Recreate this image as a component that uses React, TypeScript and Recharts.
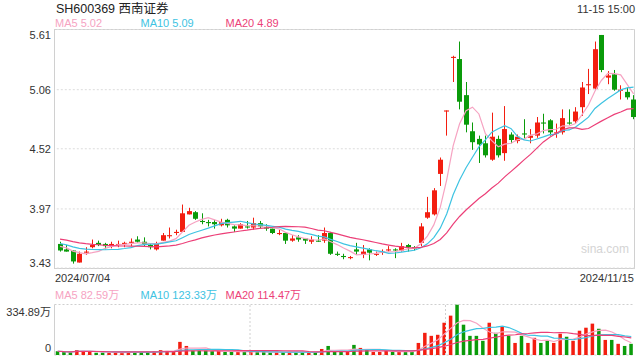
import React from "react";
import { ComposedChart, Bar, Line, XAxis, YAxis, CartesianGrid, ReferenceLine } from "recharts";

const dates = [
  "2024/07/04", "2024/07/05", "2024/07/08", "2024/07/09", "2024/07/10", "2024/07/11", "2024/07/12",
  "2024/07/15", "2024/07/16", "2024/07/17", "2024/07/18", "2024/07/19", "2024/07/22", "2024/07/23",
  "2024/07/24", "2024/07/25", "2024/07/26", "2024/07/29", "2024/07/30", "2024/07/31", "2024/08/01",
  "2024/08/02", "2024/08/05", "2024/08/06", "2024/08/07", "2024/08/08", "2024/08/09", "2024/08/12",
  "2024/08/13", "2024/08/14", "2024/08/15", "2024/08/16", "2024/08/19", "2024/08/20", "2024/08/21",
  "2024/08/22", "2024/08/23", "2024/08/26", "2024/08/27", "2024/08/28", "2024/08/29", "2024/08/30",
  "2024/09/02", "2024/09/03", "2024/09/04", "2024/09/05", "2024/09/06", "2024/09/09", "2024/09/10",
  "2024/09/11", "2024/09/12", "2024/09/13", "2024/09/18", "2024/09/19", "2024/09/20", "2024/09/23",
  "2024/09/24", "2024/09/25", "2024/09/26", "2024/09/27", "2024/09/30", "2024/10/08", "2024/10/09",
  "2024/10/10", "2024/10/11", "2024/10/14", "2024/10/15", "2024/10/16", "2024/10/17", "2024/10/18",
  "2024/10/21", "2024/10/22", "2024/10/23", "2024/10/24", "2024/10/25", "2024/10/28", "2024/10/29",
  "2024/10/30", "2024/10/31", "2024/11/01", "2024/11/04", "2024/11/05", "2024/11/06", "2024/11/07",
  "2024/11/08", "2024/11/11", "2024/11/12", "2024/11/13", "2024/11/14", "2024/11/15",
];

const open = [
  3.65, 3.60, 3.59, 3.48, 3.57, 3.62, 3.66, 3.65, 3.63, 3.64, 3.65, 3.66, 3.69, 3.67, 3.64,
  3.60, 3.68, 3.72, 3.75, 3.76, 3.92, 3.94, 3.86, 3.85, 3.85, 3.82, 3.87, 3.81, 3.79, 3.81,
  3.80, 3.84, 3.80, 3.79, 3.74, 3.75, 3.68, 3.71, 3.70, 3.67, 3.68, 3.68, 3.75, 3.56, 3.54,
  3.52, 3.60, 3.55, 3.60, 3.55, 3.57, 3.59, 3.60, 3.59, 3.64, 3.62, 3.66, 3.89, 3.92, 4.29,
  4.86, 5.35, 5.34, 5.01, 4.68, 4.61, 4.57, 4.42, 4.61, 4.48, 4.65, 4.59, 4.66, 4.62, 4.64,
  4.76, 4.78, 4.66, 4.67, 4.76, 4.77, 4.90, 5.10, 5.07, 5.56, 5.17, 5.20, 5.05, 5.04, 4.97,
];
const high = [
  3.67, 3.64, 3.59, 3.58, 3.62, 3.69, 3.68, 3.66, 3.67, 3.68, 3.67, 3.70, 3.72, 3.71, 3.65,
  3.67, 3.75, 3.80, 3.78, 4.01, 3.98, 3.95, 3.93, 3.87, 3.87, 3.88, 3.88, 3.82, 3.84, 3.86,
  3.89, 3.86, 3.83, 3.79, 3.78, 3.75, 3.73, 3.73, 3.70, 3.72, 3.73, 3.80, 3.76, 3.58, 3.56,
  3.54, 3.66, 3.64, 3.61, 3.58, 3.60, 3.63, 3.61, 3.66, 3.65, 3.63, 3.84, 4.08, 4.16, 4.44,
  4.87, 5.37, 5.50, 5.13, 4.76, 4.64, 4.64, 4.85, 4.64, 4.91, 4.67, 4.65, 4.79, 4.70, 4.81,
  4.84, 4.79, 4.75, 4.88, 4.88, 4.90, 5.13, 5.25, 5.50, 5.56, 5.23, 5.24, 5.10, 5.08, 5.01,
];
const low = [
  3.58, 3.58, 3.47, 3.48, 3.55, 3.61, 3.63, 3.60, 3.61, 3.62, 3.62, 3.63, 3.66, 3.63, 3.60,
  3.59, 3.68, 3.70, 3.73, 3.76, 3.92, 3.87, 3.83, 3.81, 3.79, 3.81, 3.80, 3.76, 3.79, 3.79,
  3.78, 3.79, 3.77, 3.74, 3.73, 3.65, 3.67, 3.67, 3.65, 3.65, 3.67, 3.66, 3.55, 3.54, 3.51,
  3.51, 3.55, 3.52, 3.50, 3.54, 3.55, 3.58, 3.52, 3.58, 3.58, 3.59, 3.63, 3.88, 3.91, 4.18,
  4.64, 5.13, 4.88, 4.67, 4.51, 4.39, 4.44, 4.41, 4.44, 4.41, 4.57, 4.57, 4.61, 4.57, 4.62,
  4.66, 4.64, 4.62, 4.65, 4.74, 4.75, 4.82, 5.02, 5.06, 5.22, 5.11, 5.05, 4.97, 4.97, 4.79,
];
const close = [
  3.59, 3.58, 3.49, 3.56, 3.58, 3.64, 3.64, 3.63, 3.65, 3.65, 3.66, 3.67, 3.67, 3.65, 3.62,
  3.65, 3.73, 3.73, 3.76, 3.93, 3.95, 3.88, 3.85, 3.84, 3.83, 3.85, 3.82, 3.79, 3.83, 3.80,
  3.84, 3.81, 3.79, 3.75, 3.75, 3.68, 3.70, 3.69, 3.68, 3.69, 3.67, 3.75, 3.56, 3.55, 3.53,
  3.53, 3.58, 3.58, 3.57, 3.56, 3.58, 3.60, 3.59, 3.63, 3.62, 3.61, 3.81, 3.94, 4.14, 4.42,
  4.87, 5.36, 4.95, 4.74, 4.58, 4.56, 4.46, 4.63, 4.46, 4.70, 4.60, 4.63, 4.65, 4.64, 4.76,
  4.75, 4.67, 4.67, 4.80, 4.75, 4.86, 5.08, 5.11, 5.43, 5.24, 5.19, 5.06, 5.06, 4.99, 4.81,
];

// volume in 万 (10k) shares
const volume = [
  25, 20, 18, 33, 27, 25, 15, 15, 15, 18, 18, 18, 20, 20, 22, 25, 33, 27, 25, 87,
  60, 29, 29, 29, 25, 27, 20, 20, 20, 22, 20, 20, 20, 16, 18, 20, 16, 20, 18, 16,
  20, 40, 60, 22, 22, 22, 67, 47, 33, 20, 20, 29, 20, 22, 20, 20, 80, 147, 127, 134,
  214, 261, 334.89, 201, 127, 127, 94, 214, 147, 188, 127, 80, 127, 80, 114, 80, 94, 80, 141, 121,
  94, 161, 181, 208, 174, 100, 100, 74, 60, 74,
];

// closes before 07/04, backed out from where the MA lines start at the left edge
const earlierCloses = [
  3.78, 3.76, 3.77, 3.74, 3.75, 3.72, 3.73, 3.70, 3.71, 3.68,
  3.70, 3.68, 3.69, 3.66, 3.67, 3.65, 3.64, 3.63, 3.63,
];

const priceTicks = [3.43, 3.97, 4.52, 5.06, 5.61];
const volTicks = [0, 334.89];
const volTickLabels = ["0", "334.89万"];

const title = "SH600369 西南证券";
const timeLabel = "11-15 15:00";
const priceLegend = ["MA5 5.02", "MA10 5.09", "MA20 4.89"];
const volLegend = ["MA5 82.59万", "MA10 123.33万", "MA20 114.47万"];

const RED = "#f31e10";
const GREEN = "#0a9b0a";
const MA5C = "#f6a3c2";
const MA10C = "#3ec3e2";
const MA20C = "#ec3f78";
const FONT = "Arial, 'Liberation Sans', 'Noto Sans CJK SC', sans-serif";

function movingAvg(values: number[], n: number, prior: number[] = []) {
  const all = [...prior, ...values];
  return values.map((_, i) => {
    const end = prior.length + i + 1;
    const win = all.slice(Math.max(0, end - n), end);
    return win.reduce((a, b) => a + b, 0) / win.length;
  });
}

const ma5 = movingAvg(close, 5, earlierCloses);
const ma10 = movingAvg(close, 10, earlierCloses);
const ma20 = movingAvg(close, 20, earlierCloses);
const vma5 = movingAvg(volume, 5);
const vma10 = movingAvg(volume, 10);
const vma20 = movingAvg(volume, 20);

const rows = dates.map((date, i) => ({
  date,
  open: open[i],
  high: high[i],
  low: low[i],
  close: close[i],
  range: [low[i], high[i]],
  volume: volume[i],
  ma5: ma5[i],
  ma10: ma10[i],
  ma20: ma20[i],
  vma5: vma5[i],
  vma10: vma10[i],
  vma20: vma20[i],
}));

function Candle(props: any) {
  const { x, y, width, height, payload } = props;
  const { open, close, high, low } = payload;
  const color = close >= open ? RED : GREEN;
  const top = Math.min(y, y + height);
  const bottom = Math.max(y, y + height);
  const yOf = (v: number) => top + ((high - v) / (high - low)) * (bottom - top);
  const cx = Math.round(x + width / 2) + 0.5;
  const bTop = yOf(Math.max(open, close));
  const bBot = yOf(Math.min(open, close));
  return (
    <g>
      <line x1={cx} x2={cx} y1={top} y2={bottom} stroke={color} strokeWidth={1} />
      <rect x={cx - 2.5} y={bTop} width={5} height={Math.max(1, bBot - bTop)} fill={color} />
    </g>
  );
}

function VolBar(props: any) {
  const { x, y, width, height, payload } = props;
  const color = payload.close >= payload.open ? RED : GREEN;
  const cx = x + width / 2;
  return <rect x={cx - 1.75} y={y} width={3.5} height={Math.max(0, height)} fill={color} />;
}

function PriceTick(props: any) {
  const { y, payload } = props;
  const v = payload.value;
  let dy = 4;
  if (v === priceTicks[priceTicks.length - 1]) dy = 9;
  if (v === priceTicks[0]) dy = -1;
  return (
    <text x={51} y={y + dy} textAnchor="end" fontSize={11} fill="#333" fontFamily={FONT}>
      {v.toFixed(2)}
    </text>
  );
}

function DateTick(props: any) {
  const { payload } = props;
  const first = payload.value === dates[0];
  return (
    <text x={first ? 55 : 634} y={282} textAnchor={first ? "start" : "end"} fontSize={11} fill="#333" fontFamily={FONT}>
      {payload.value}
    </text>
  );
}

function VolTick(props: any) {
  const { y, payload } = props;
  const idx = volTicks.indexOf(payload.value);
  const isTop = idx === volTicks.length - 1;
  return (
    <text x={51} y={y + (isTop ? 11 : -3)} textAnchor="end" fontSize={11} fill="#333" fontFamily={FONT}>
      {volTickLabels[idx]}
    </text>
  );
}

export default function App() {
  return (
    <div style={{ position: "absolute", left: 0, top: 0, width: 640, height: 360, background: "#fff", fontFamily: FONT }}>
      <svg width={640} height={360} style={{ position: "absolute", left: 0, top: 0 }}>
        <rect x={54.5} y={29.5} width={580} height={239} fill="none" stroke="#d0d0d0" />
        <text x={56} y={13} fontSize={12.5} fill="#222">{title}</text>
        <text x={635} y={13} fontSize={11} fill="#333" textAnchor="end">{timeLabel}</text>
        <text x={55} y={27} fontSize={11} fill={MA5C}>{priceLegend[0]}</text>
        <text x={140.5} y={27} fontSize={11} fill={MA10C}>{priceLegend[1]}</text>
        <text x={225.5} y={27} fontSize={11} fill={MA20C}>{priceLegend[2]}</text>
        <text x={55} y={299} fontSize={11} fill={MA5C}>{volLegend[0]}</text>
        <text x={140.5} y={299} fontSize={11} fill={MA10C}>{volLegend[1]}</text>
        <text x={225.5} y={299} fontSize={11} fill={MA20C}>{volLegend[2]}</text>
        <text x={581} y={253} fontSize={12} fill="#d4d4d4">sina.com</text>
      </svg>

      <div style={{ position: "absolute", left: 0, top: 0 }}>
        <ComposedChart width={640} height={290} data={rows} margin={{ top: 29.5, right: 3.2, bottom: 0, left: 0 }} barCategoryGap={0}>
          <CartesianGrid horizontal vertical={false} stroke="#dcdcdc" strokeDasharray="2 2" />
          <XAxis dataKey="date" ticks={[dates[0], dates[dates.length - 1]]} interval={0} tickLine={false} axisLine={false} height={22} tick={<DateTick />} />
          <YAxis width={56.8} domain={[3.43, 5.61]} ticks={priceTicks} interval={0} allowDataOverflow tickLine={false} axisLine={false} tick={<PriceTick />} />
          <Bar dataKey="range" shape={<Candle />} isAnimationActive={false} />
          <Line type="linear" dataKey="ma5" stroke={MA5C} strokeWidth={1.2} dot={false} isAnimationActive={false} />
          <Line type="linear" dataKey="ma10" stroke={MA10C} strokeWidth={1.2} dot={false} isAnimationActive={false} />
          <Line type="linear" dataKey="ma20" stroke={MA20C} strokeWidth={1.2} dot={false} isAnimationActive={false} />
        </ComposedChart>
      </div>

      <div style={{ position: "absolute", left: 0, top: 290 }}>
        <ComposedChart width={640} height={70} data={rows} margin={{ top: 14.5, right: 5.5, bottom: 5, left: 0 }} barCategoryGap={0}>
          <CartesianGrid horizontal vertical={false} stroke="#cfcfcf" strokeDasharray="2 2" />
          <XAxis dataKey="date" hide />
          <XAxis xAxisId="g" type="number" domain={[0, 90]} hide />
          <YAxis width={54.5} domain={[0, 334.89]} ticks={volTicks} interval={0} allowDataOverflow tickLine={false} axisLine={false} tick={<VolTick />} />
          <ReferenceLine xAxisId="g" x={0} stroke="#d0d0d0" />
          <ReferenceLine xAxisId="g" x={90} stroke="#d0d0d0" />
          <ReferenceLine xAxisId="g" x={30} stroke="#d0d0d0" strokeDasharray="2 2" />
          <ReferenceLine xAxisId="g" x={60} stroke="#d0d0d0" strokeDasharray="2 2" />
          <Bar dataKey="volume" shape={<VolBar />} isAnimationActive={false} />
          <Line type="linear" dataKey="vma5" stroke={MA5C} strokeWidth={1.2} dot={false} isAnimationActive={false} />
          <Line type="linear" dataKey="vma10" stroke={MA10C} strokeWidth={1.2} dot={false} isAnimationActive={false} />
          <Line type="linear" dataKey="vma20" stroke={MA20C} strokeWidth={1.2} dot={false} isAnimationActive={false} />
        </ComposedChart>
      </div>
    </div>
  );
}
